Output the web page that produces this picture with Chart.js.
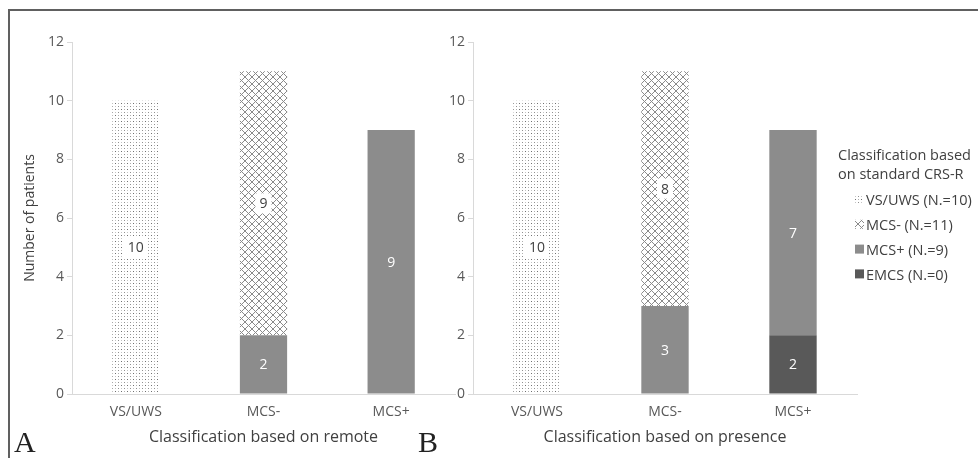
<!DOCTYPE html>
<html>
<head>
<meta charset="utf-8">
<script src="https://cdn.jsdelivr.net/npm/chart.js@4.4.1/dist/chart.umd.min.js"></script>
<style>
  html, body { margin: 0; padding: 0; background: #fff; }
  #wrap { position: relative; width: 978px; height: 458px; overflow: hidden; font-family: "Open Sans", sans-serif; }
  #frame { position: absolute; left: 8px; top: 9px; right: -4px; bottom: -4px; border-top: 2px solid #606060; border-left: 2px solid #606060; }
  #boxA { position: absolute; left: 0; top: 0; width: 470px; height: 458px; }
  #boxB { position: absolute; left: 410px; top: 0; width: 568px; height: 458px; }
  .panel { position: absolute; top: 427px; font-family: "Liberation Serif", serif; font-size: 30px; line-height: 30px; color: #222; }
</style>
</head>
<body>
<div id="wrap">
  <div id="frame"></div>
  <div id="boxA"><canvas id="chartA"></canvas></div>
  <div id="boxB"><canvas id="chartB"></canvas></div>
  <div class="panel" style="left:14px">A</div>
  <div class="panel" style="left:418px">B</div>
</div>
<script>
// ── Data ────────────────────────────────────────────────────────────────
const CATEGORIES = ['VS/UWS', 'MCS-', 'MCS+'];
const SERIES_NAMES = ['VS/UWS (N.=10)', 'MCS- (N.=11)', 'MCS+ (N.=9)', 'EMCS (N.=0)'];
const Y_TICKS = [0, 2, 4, 6, 8, 10, 12];

// panel A: classification based on remote
const REMOTE_VS = [10, 0, 0];
const REMOTE_MCS_MINUS = [0, 9, 0];
const REMOTE_MCS_PLUS = [0, 2, 9];
const REMOTE_EMCS = [0, 0, 0];

// panel B: classification based on presence
const PRESENCE_VS = [10, 0, 0];
const PRESENCE_MCS_MINUS = [0, 8, 0];
const PRESENCE_MCS_PLUS = [0, 3, 7];
const PRESENCE_EMCS = [0, 0, 2];

// ── Fill patterns ───────────────────────────────────────────────────────
function makePattern(w, h, draw) {
  const c = document.createElement('canvas');
  c.width = w; c.height = h;
  const g = c.getContext('2d');
  g.fillStyle = '#fff';
  g.fillRect(0, 0, w, h);
  draw(g);
  return c.getContext('2d').createPattern(c, 'repeat');
}

const dotPattern = makePattern(6, 6, (g) => {
  g.fillStyle = '#707070'; g.fillRect(1, 1, 1, 1);
  g.fillStyle = '#b0b0b0'; g.fillRect(4, 1, 1, 1);
  g.fillStyle = '#c4c4c4'; g.fillRect(1, 4, 1, 1);
  g.fillStyle = '#909090'; g.fillRect(4, 4, 1, 1);
});

const hatchPattern = makePattern(7, 7, (g) => {
  g.strokeStyle = '#8a8a8a';
  g.lineWidth = 1;
  g.beginPath();
  g.moveTo(-1, -1); g.lineTo(8, 8);
  g.moveTo(8, -1); g.lineTo(-1, 8);
  g.stroke();
});

const FILLS = [dotPattern, hatchPattern, '#8c8c8c', '#595959'];

// ── Plugins ─────────────────────────────────────────────────────────────
const barLabels = {
  id: 'barLabels',
  afterDatasetsDraw(chart) {
    const { ctx } = chart;
    ctx.save();
    ctx.font = '14px "Open Sans"';
    ctx.textAlign = 'center';
    ctx.textBaseline = 'middle';
    chart.data.datasets.forEach((ds, i) => {
      chart.getDatasetMeta(i).data.forEach((bar, j) => {
        const v = ds.data[j];
        if (!v) return;
        const { x, y, base } = bar.getProps(['x', 'y', 'base'], true);
        const cy = (y + base) / 2;
        const txt = String(v);
        if (ds.boxed) {
          const w = ctx.measureText(txt).width + 8;
          ctx.fillStyle = '#fff';
          ctx.fillRect(x - w / 2, cy - 10, w, 20);
          ctx.fillStyle = '#404040';
        } else {
          ctx.fillStyle = '#fff';
        }
        ctx.fillText(txt, x, cy + 1);
      });
    });
    ctx.restore();
  },
};

// legend drawn to the right of panel B, top-down as in the source figure
const sideLegend = {
  id: 'sideLegend',
  afterDraw(chart) {
    const { ctx } = chart;
    const left = 838 - 410;
    ctx.save();
    ctx.font = '14.5px "Open Sans"';
    ctx.fillStyle = '#404040';
    ctx.textBaseline = 'middle';
    ctx.fillText('Classification based', left, 156);
    ctx.fillText('on standard CRS-R', left, 175);
    const sets = chart.data.datasets.slice().reverse();
    sets.forEach((ds, k) => {
      const y = 200 + k * 24.8;
      ctx.fillStyle = ds.backgroundColor;
      ctx.fillRect(left + 17, y - 5, 9, 9);
      ctx.fillStyle = '#404040';
      ctx.fillText(ds.label, left + 28, y + 1);
    });
    ctx.restore();
  },
};

// ── Chart builder ───────────────────────────────────────────────────────
function buildDatasets(vs, mMinus, mPlus, emcs) {
  // stacking order bottom-up: EMCS, MCS+, MCS-, VS/UWS
  const values = [vs, mMinus, mPlus, emcs];
  return [3, 2, 1, 0].map((k) => ({
    label: SERIES_NAMES[k],
    data: values[k],
    backgroundColor: FILLS[k],
    borderWidth: 0,
    boxed: k < 2,
    categoryPercentage: 1,
    barPercentage: 0.37,
  }));
}

function makeChart(id, datasets, opts) {
  return new Chart(document.getElementById(id), {
    type: 'bar',
    data: { labels: CATEGORIES, datasets },
    options: {
      responsive: true,
      maintainAspectRatio: false,
      animation: false,
      layout: { padding: opts.padding },
      plugins: { legend: { display: false }, tooltip: { enabled: false } },
      scales: {
        x: {
          stacked: true,
          afterFit: (s) => { s.height = 64; },
          grid: { display: true, drawOnChartArea: false, drawTicks: false },
          border: { display: true, color: '#d9d9d9', width: 1 },
          ticks: { color: '#595959', font: { family: 'Open Sans', size: 14 }, padding: 10 },
          title: {
            display: true, text: opts.xTitle, color: '#404040',
            font: { family: 'Open Sans', size: 16 }, padding: { top: 4, bottom: 11 },
          },
        },
        y: {
          stacked: true,
          min: 0,
          max: 12,
          afterBuildTicks: (s) => { s.ticks = Y_TICKS.map((v) => ({ value: v })); },
          afterFit: (s) => { s.width = opts.yWidth; },
          grid: { drawOnChartArea: false, drawTicks: true, tickLength: 5, color: '#d9d9d9' },
          border: { display: true, color: '#d9d9d9', width: 1 },
          ticks: { color: '#595959', font: { family: 'Open Sans', size: 14 }, padding: 3 },
          title: {
            display: !!opts.yTitle, text: opts.yTitle || '', color: '#404040',
            font: { family: 'Open Sans', size: 14 }, padding: { top: 4, bottom: 0 },
          },
        },
      },
    },
    plugins: opts.plugins,
  });
}

makeChart('chartA', buildDatasets(REMOTE_VS, REMOTE_MCS_MINUS, REMOTE_MCS_PLUS, REMOTE_EMCS), {
  padding: { left: 18, top: 42, right: 15, bottom: 0 },
  yWidth: 54,
  yTitle: 'Number of patients',
  xTitle: 'Classification based on remote',
  plugins: [barLabels],
});

makeChart('chartB', buildDatasets(PRESENCE_VS, PRESENCE_MCS_MINUS, PRESENCE_MCS_PLUS, PRESENCE_EMCS), {
  padding: { left: 5, top: 42, right: 121, bottom: 0 },
  yWidth: 58,
  xTitle: 'Classification based on presence',
  plugins: [barLabels, sideLegend],
});
</script>
</body>
</html>
